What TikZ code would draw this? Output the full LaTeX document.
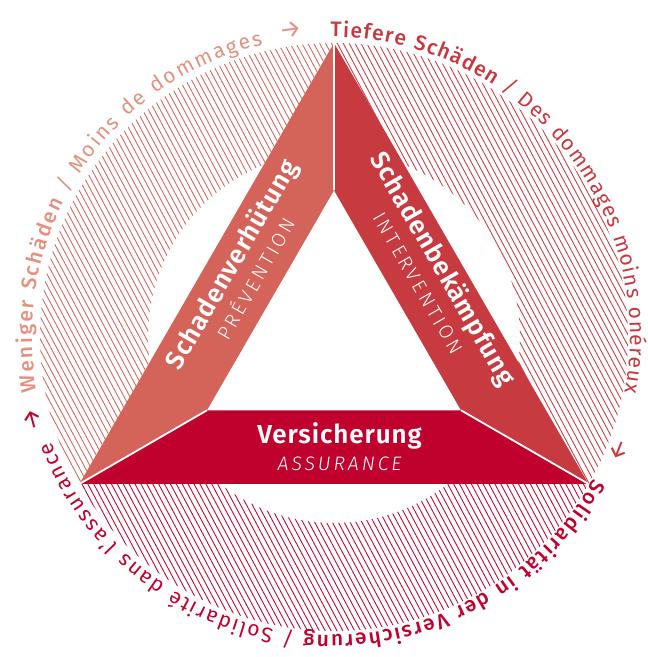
\documentclass[tikz,border=0pt]{standalone}
\usepackage{fontspec}
\setmainfont{Fira Sans}
\newfontfamily\fsemi{Fira Sans SemiBold}[LetterSpace=3.5]
\newfontfamily\fmed{Fira Sans Medium}[LetterSpace=4]
\newfontfamily\freg{Fira Sans}[LetterSpace=4]
\newfontfamily\flight{Fira Sans Light}[LetterSpace=16]
\newfontfamily\flightit{Fira Sans Light Italic}[LetterSpace=15]
\newfontfamily\farrow{Fira Sans}
\usetikzlibrary{decorations.text,calc}
\definecolor{salmonband}{HTML}{D4645A}
\definecolor{redband}{HTML}{C63A40}
\definecolor{crimband}{HTML}{C0002D}
\definecolor{salmontext}{HTML}{E39180}
\definecolor{redtext}{HTML}{C8373E}
\newcommand{\ringsize}{\fontsize{21}{24}\selectfont}
\tikzset{
  hatchline/.style={line width=0.85pt},
  bandtitle/.style={text=white, font=\fsemi\fontsize{26}{28}\selectfont, inner sep=0pt},
  bandsub/.style={text=white, font=\flight\fontsize{19.5}{24}\selectfont, inner sep=0pt},
  divider/.style={white, line width=1.8pt},
  ringarrow/.style={font=\farrow\fontsize{25}{28}\selectfont, inner sep=0pt},
}
\begin{document}
\begin{tikzpicture}[x=1pt,y=1pt]
\useasboundingbox (0,0) rectangle (648,657);
% key points
\coordinate (C) at (334,320);
\coordinate (T) at (331,321);
\coordinate (A) at (334,614);
\coordinate (BL) at (79.4,173);
\coordinate (BR) at (588.6,173);
\coordinate (IA) at (334,466.6);
\coordinate (IBL) at (207,246.7);
\coordinate (IBR) at (461,246.7);
% hatched ring segments
\begin{scope}[even odd rule]
  \clip (A) arc[start angle=90, end angle=210, radius=294] -- cycle;
  \clip (-10,-10) rectangle (660,670) (C) circle[radius=186];
  \foreach \k in {-70,...,115} \draw[hatchline, salmonband] ({\k*5.9},660) -- ++(-62:760);
\end{scope}
\begin{scope}[even odd rule]
  \clip (A) arc[start angle=90, end angle=-30, radius=294] -- cycle;
  \clip (-10,-10) rectangle (660,670) (C) circle[radius=186];
  \foreach \k in {-70,...,115} \draw[hatchline, redband] ({\k*5.9},660) -- ++(-62:760);
\end{scope}
\begin{scope}[even odd rule]
  \clip (BR) arc[start angle=-30, end angle=-150, radius=294] -- cycle;
  \clip (-10,-10) rectangle (660,670) (C) circle[radius=186];
  \foreach \k in {-70,...,115} \draw[hatchline, crimband] ({\k*5.9},660) -- ++(-62:760);
\end{scope}
% bands
\fill[salmonband] (A) -- (BL) -- (IBL) -- (IA) -- cycle;
\fill[redband] (A) -- (IA) -- (IBR) -- (BR) -- cycle;
\fill[crimband] (BL) -- (BR) -- (IBR) -- (IBL) -- cycle;
\draw[divider] (A) -- (IA) (BL) -- (IBL) (BR) -- (IBR);
% band texts
\begin{scope}[shift={(242.5,386)}, rotate=60, transform shape]
  \node[bandtitle, anchor=base] (prevde) at (0,4) {Schadenverhütung};
  \node[bandsub, anchor=base] (prevfr) at (0,-23) {PR^^^^00c9VENTION};
\end{scope}
\begin{scope}[shift={(432,382)}, rotate=-60, transform shape]
  \node[bandtitle, anchor=base] (intde) at (0,4) {Schadenbekämpfung};
  \node[bandsub, anchor=base] (intfr) at (0,-23) {INTERVENTION};
\end{scope}
\node[bandtitle, anchor=base] (assde) at (339.5,213.7) {Versicherung};
\node[bandsub, anchor=base, font=\flightit\fontsize{19.5}{24}\selectfont] (assfr) at (339.5,186.3) {ASSURANCE};
% ring texts
\path[decorate, decoration={text along path, text align=fit to path, text color=salmontext,
  text={|\ringsize\fmed|Weniger Sch^^^^00e4den |\ringsize\freg|/ Moins de dommages}}]
  (T) ++(190.6:299) arc[start angle=190.6, end angle=103.2, radius=299];
\path[decorate, decoration={text along path, text align=fit to path, text color=redtext,
  text={|\ringsize\fmed|Tiefere Sch^^^^00e4den |\ringsize\freg|/ Des dommages moins on^^^^00e9reux}}]
  (T) ++(90.1:299) arc[start angle=90.1, end angle=-10.9, radius=299];
\path[decorate, decoration={text along path, text align=fit to path, text color=crimband,
  text={|\ringsize\fmed|Solidarit^^^^00e4t in der Versicherung |\ringsize\freg|/ Solidarit^^^^00e9 dans l^^^^2019assurance}}]
  (T) ++(-28.5:299) arc[start angle=-28.5, end angle=-159.3, radius=299];
% ring arrows
\node[ringarrow, text=salmontext, rotate=8.1] (arrw) at ($(C)+(98.1:310)$) {→};
\node[ringarrow, text=redtext, rotate=-111.6] (arre) at ($(C)+(-21.6:306)$) {→};
\node[ringarrow, text=crimband, rotate=105.3] (arrs) at ($(C)+(195.3:312)$) {→};
\end{tikzpicture}
\end{document}
